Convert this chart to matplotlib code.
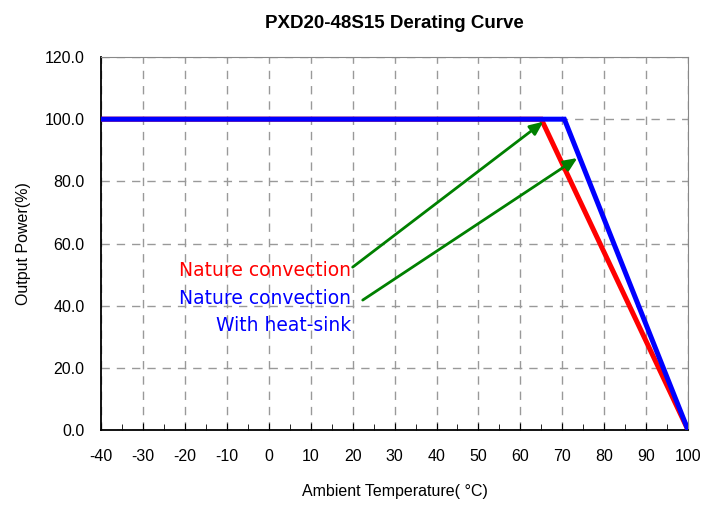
import matplotlib
matplotlib.use("Agg")
import matplotlib.pyplot as plt
from matplotlib.ticker import MultipleLocator

# derating curves
temp_red = [-40, 65, 100]
power_red = [100, 100, 0]
temp_blue = [-40, 70.5, 100]
power_blue = [100, 100, 0]

x_ticks = list(range(-40, 101, 10))
y_ticks = [0, 20, 40, 60, 80, 100, 120]

# annotation arrows: (text end, arrow tip)
arrow_red = [(20.0, 52.4), (65.5, 99.2)]
arrow_blue = [(22.4, 41.8), (73.6, 87.5)]

plt.rcParams['font.family'] = ['Liberation Sans', 'DejaVu Sans']

fig = plt.figure(figsize=(7.05, 5.05), dpi=100)
ax = fig.add_axes([0.1435, 0.1485, 0.8324, 0.7386])

ax.plot(temp_red, power_red, color="#FF0000", lw=3.6, solid_joinstyle='miter', zorder=3)
ax.plot(temp_blue, power_blue, color="#0000FF", lw=3.6, solid_joinstyle='miter', zorder=4)

ax.set_xlim(-40, 100)
ax.set_ylim(0, 120)
ax.set_xticks(x_ticks)
ax.set_yticks(y_ticks)
ax.xaxis.set_minor_locator(MultipleLocator(5))
ax.set_xticklabels([str(t) for t in x_ticks], fontsize=11.5)
ax.set_yticklabels(["%.1f" % t for t in y_ticks], fontsize=11.5)
ax.tick_params(axis='x', which='both', direction='in', length=4, pad=14)
ax.tick_params(axis='x', which='major', length=5)
ax.tick_params(axis='y', direction='in', length=0, pad=12)

ax.grid(True, color="#999999", linestyle=(0, (6, 5)), linewidth=1)
for side in ['top', 'right']:
    ax.spines[side].set_color("#888888")
for side in ['left', 'bottom']:
    ax.spines[side].set_color("black")
    ax.spines[side].set_linewidth(1.3)

ax.set_title("PXD20-48S15 Derating Curve", fontsize=13.5, fontweight='bold', pad=21)
ax.set_xlabel("Ambient Temperature( °C)", fontsize=11.5, labelpad=14)
ax.set_ylabel("Output Power(%)", fontsize=11.5, labelpad=10)

label_font = ['DejaVu Sans']
ax.text(19.6, 51.2, "Nature convection", color="#FF0000", fontsize=13.5, ha='right', va='center', family=label_font)
ax.text(19.6, 42.4, "Nature convection", color="#0000FF", fontsize=13.5, ha='right', va='center', family=label_font)
ax.text(19.6, 33.6, "With heat-sink", color="#0000FF", fontsize=13.5, ha='right', va='center', family=label_font)

for (x0, y0), (x1, y1) in [arrow_red, arrow_blue]:
    ax.annotate("", xy=(x1, y1), xytext=(x0, y0),
                arrowprops=dict(arrowstyle="-|>,head_length=0.8,head_width=0.35",
                                color="#008000", lw=2, shrinkA=0, shrinkB=0),
                zorder=5)

fig.savefig("out.png", dpi=100)
